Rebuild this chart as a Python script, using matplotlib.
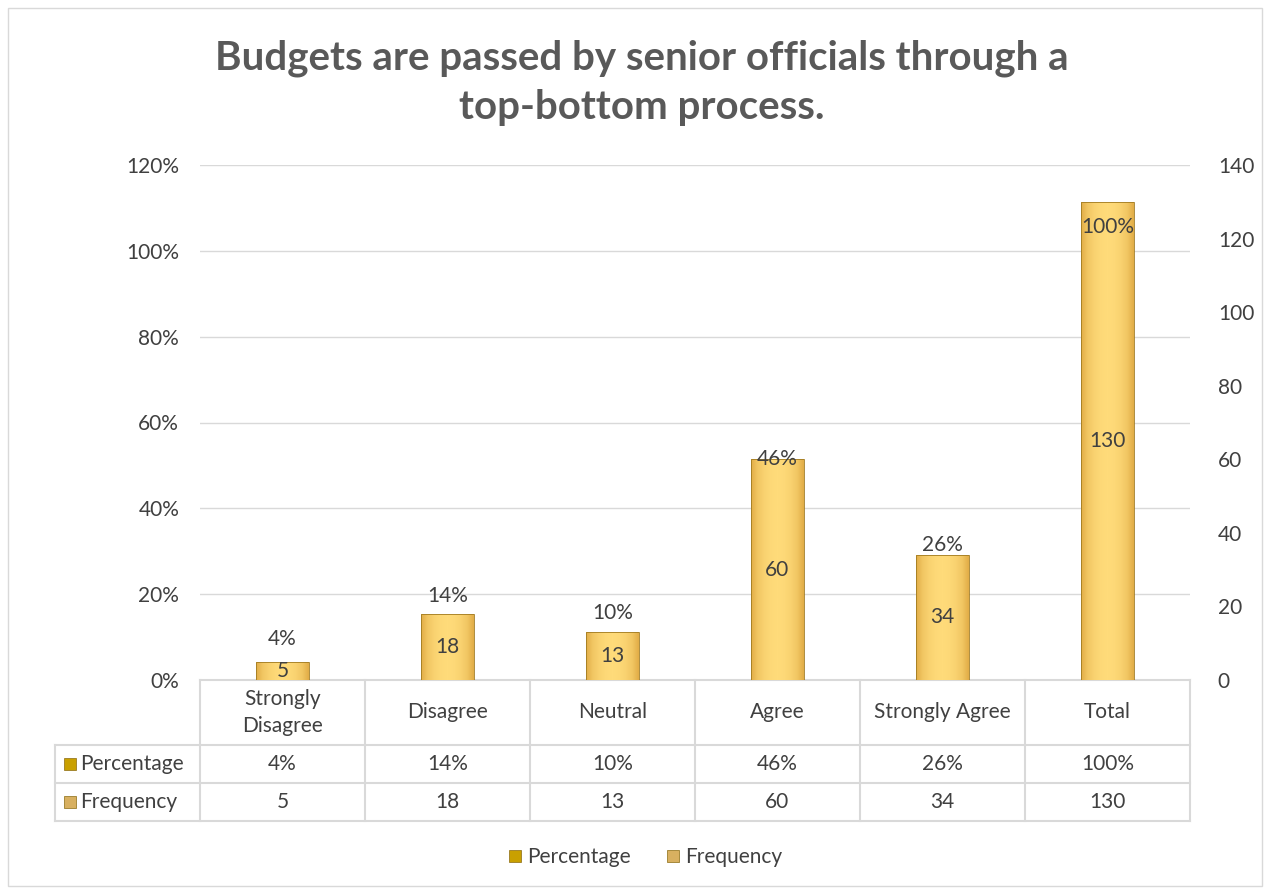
import matplotlib.pyplot as plt
from matplotlib.lines import Line2D
from matplotlib.patches import Rectangle
import numpy as np

categories = ["Strongly\nDisagree", "Disagree", "Neutral", "Agree", "Strongly Agree", "Total"]
percentage = [0.04, 0.14, 0.10, 0.46, 0.26, 1.00]
frequency = [5, 18, 13, 60, 34, 130]
pct_labels = ["4%", "14%", "10%", "46%", "26%", "100%"]

plt.rcParams['font.family'] = ['Lato', 'DejaVu Sans']
txt = '#404040'
gridc = '#d9d9d9'
fs = 15

W, H = 1264, 890
fig = plt.figure(figsize=(W / 100, H / 100), dpi=100)

def fx(px):
    return px / W

def fy(py):
    return 1 - py / H

# outer chart border
fig.add_artist(Rectangle((fx(8), fy(886)), fx(1262) - fx(8), fy(8) - fy(886),
                         transform=fig.transFigure, fill=False, edgecolor=gridc, lw=1))

left, right, top, bottom = 200, 1190, 165, 680
ax = fig.add_axes([fx(left), fy(bottom), fx(right) - fx(left), fy(top) - fy(bottom)])
ax2 = ax.twinx()

x = np.arange(len(categories))
bw = 0.32

# percentage bars (primary axis), sit behind frequency bars
ax.bar(x, percentage, width=bw, color='#C9A227', zorder=2)
ax.set_ylim(0, 1.2)
ax.set_yticks(np.arange(0, 1.21, 0.2))
ax.set_yticklabels([f"{int(round(v * 100))}%" for v in np.arange(0, 1.21, 0.2)])
ax.yaxis.grid(True, color=gridc, lw=1)
ax.set_axisbelow(True)
ax.set_xlim(-0.5, len(categories) - 0.5)
ax.set_xticks([])

# frequency bars (secondary axis) with gradient fill
ax2.set_ylim(0, 140)
ax2.set_yticks(range(0, 141, 20))
bars = ax2.bar(x, frequency, width=bw, color='none', edgecolor='#a07a20', lw=0.6, zorder=3)
grad = np.array([0.0, 0.55, 0.8, 0.95, 1.0, 0.95, 0.8, 0.55, 0.0])
cmap = plt.matplotlib.colors.LinearSegmentedColormap.from_list('g', ['#E2AE48', '#FFDB7A'])
for b in bars:
    x0, w, h = b.get_x(), b.get_width(), b.get_height()
    im = ax2.imshow(np.interp(np.linspace(0, 8, 64), np.arange(9), grad)[None, :], cmap=cmap,
                    extent=[x0, x0 + w, 0, h], aspect='auto', zorder=2.5, vmin=0, vmax=1)
    im.set_clip_path(b)
ax2.set_xlim(-0.5, len(categories) - 0.5)
ax2.set_ylim(0, 140)
for i, f in enumerate(frequency):
    ax2.text(x[i], f / 2, str(f), ha='center', va='center', fontsize=fs, color=txt, zorder=6)

# percentage labels sit above the (hidden) percentage bars, drawn on top
for i, p in enumerate(percentage):
    ax2.text(x[i], p / 1.2 * 140 + 6.5, pct_labels[i], ha='center', va='center',
             fontsize=fs, color=txt, zorder=7)

for a in (ax, ax2):
    for s in a.spines.values():
        s.set_visible(False)
    a.tick_params(length=0, labelsize=fs, labelcolor=txt)
ax.tick_params(axis='y', pad=15)
ax2.tick_params(axis='y', pad=20)

# data table
xt = ax.get_xaxis_transform()
r0, r1, r2, r3 = 0, (bottom - 745) / 515, (bottom - 783) / 515, (bottom - 821) / 515
xl = (55 - left) / (right - left) * 6 - 0.5
kw = dict(color=gridc, lw=1.5, transform=xt, clip_on=False)
for yy in (r0, r1, r2, r3):
    x_start = -0.5 if yy == r0 else xl
    ax.add_line(Line2D([x_start, 5.5], [yy, yy], **kw))
for xx in np.arange(-0.5, 6, 1):
    ax.add_line(Line2D([xx, xx], [r0, r3], **kw))
ax.add_line(Line2D([xl, xl], [r1, r3], **kw))

for i, c in enumerate(categories):
    ax.text(i, (r0 + r1) / 2, c, ha='center', va='center', fontsize=fs, color=txt,
            transform=xt, linespacing=1.45)
    ax.text(i, (r1 + r2) / 2, pct_labels[i], ha='center', va='center', fontsize=fs, color=txt, transform=xt)
    ax.text(i, (r2 + r3) / 2, str(frequency[i]), ha='center', va='center', fontsize=fs, color=txt, transform=xt)

for yy, name, col in (((r1 + r2) / 2, "Percentage", '#C9A000'), ((r2 + r3) / 2, "Frequency", '#D8B060')):
    ax.plot([xl + 0.09], [yy], marker='s', ms=9, color=col, mec='#8a6a10', mew=0.5,
            transform=xt, clip_on=False)
    ax.text(xl + 0.15, yy, name, ha='left', va='center', fontsize=fs, color=txt, transform=xt)

# legend
handles = [Line2D([], [], ls='', marker='s', ms=9, color='#C9A000', mec='#8a6a10', mew=0.5),
           Line2D([], [], ls='', marker='s', ms=9, color='#D8B060', mec='#8a6a10', mew=0.5)]
fig.legend(handles, ["Percentage", "Frequency"], loc='center', bbox_to_anchor=(0.51, fy(857)),
           ncol=2, frameon=False, fontsize=fs, labelcolor=txt, handlelength=0.8,
           handletextpad=0.2, columnspacing=1.6)

fig.text(0.508, fy(83), "Budgets are passed by senior officials through a\ntop-bottom process.",
         ha='center', va='center', fontsize=29, fontweight='bold', color='#595959', linespacing=1.4)

fig.savefig("out.png", dpi=100)
